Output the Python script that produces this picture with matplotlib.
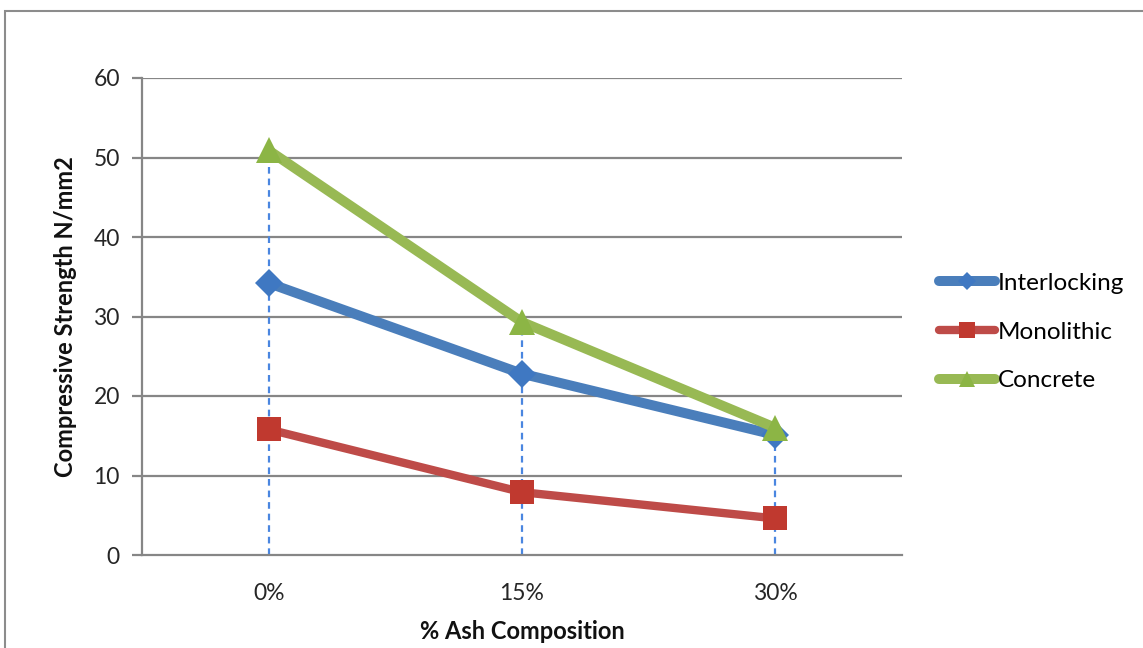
import matplotlib
matplotlib.use("Agg")
import matplotlib.pyplot as plt
from matplotlib.patches import Rectangle
from matplotlib.lines import Line2D

categories = ["0%", "15%", "30%"]
interlocking = [34.2, 22.8, 15.1]
monolithic = [15.8, 7.9, 4.6]
concrete = [50.9, 29.3, 16.0]
series_names = ["Interlocking", "Monolithic", "Concrete"]
y_ticks = [0, 10, 20, 30, 40, 50, 60]

plt.rcParams['font.family'] = ['Lato', 'DejaVu Sans']

fig = plt.figure(figsize=(11.43, 6.48), dpi=100)
fig.patch.set_facecolor('white')
# outer chart frame
fig.patches.append(Rectangle((5/1143, -0.1), 1.2, 1 - 11/648 + 0.1, transform=fig.transFigure,
                             fill=False, edgecolor='#8c8c8c', linewidth=1.5, zorder=0))

ax = fig.add_axes([142/1143, 1 - 555/648, 760/1143, 477/648])
x = [i + 0.5 for i in range(len(categories))]

gray = '#868686'
for t in y_ticks[1:]:
    ax.axhline(t, color=gray, linewidth=1.6, zorder=1)

# drop lines
tops = [max(a, b, c) for a, b, c in zip(interlocking, monolithic, concrete)]
ax.vlines(x, 0, tops, colors='#4a86e0', linestyles=(0, (3, 2.2)), linewidth=1.6, zorder=2)

blue, red, green = '#4a7ebb', '#be4b48', '#98b954'
ax.plot(x, interlocking, color=blue, linewidth=7.2, marker='D', markersize=14,
        markerfacecolor='#3f78c2', markeredgewidth=0, zorder=4, solid_capstyle='round')
ax.plot(x, monolithic, color=red, linewidth=6, marker='s', markersize=17,
        markerfacecolor='#c0392f', markeredgewidth=0, zorder=3, solid_capstyle='round')
ax.plot(x, concrete, color=green, linewidth=7.2, marker='^', markersize=19,
        markerfacecolor='#8cb545', markeredgewidth=0, zorder=5, solid_capstyle='round')

ax.set_xlim(0, 3)
ax.set_ylim(0, 60)
ax.set_xticks(x)
ax.set_xticklabels(categories)
ax.set_yticks(y_ticks)
ax.tick_params(axis='x', length=0, pad=20, labelsize=16.5, colors='#262626')
ax.tick_params(axis='y', length=7, width=1.6, color=gray, pad=9, labelsize=16.5, labelcolor='#262626')
for s in ['top', 'right']:
    ax.spines[s].set_visible(False)
for s in ['left', 'bottom']:
    ax.spines[s].set_color(gray)
    ax.spines[s].set_linewidth(1.6)

ax.set_xlabel("% Ash Composition", fontsize=17, fontweight='bold', labelpad=12, color='#111111')
ax.set_ylabel("Compressive Strength N/mm2", fontsize=17, fontweight='bold', labelpad=12, color='#111111')

handles = [
    Line2D([], [], color=blue, linewidth=7.2, marker='D', markersize=9, markerfacecolor='#3f78c2', markeredgewidth=0, solid_capstyle='round'),
    Line2D([], [], color=red, linewidth=6, marker='s', markersize=12, markerfacecolor='#c0392f', markeredgewidth=0, solid_capstyle='round'),
    Line2D([], [], color=green, linewidth=7.2, marker='^', markersize=12, markerfacecolor='#8cb545', markeredgewidth=0, solid_capstyle='round'),
]
fig.legend(handles, series_names, loc='center left', bbox_to_anchor=(939/1143, 1 - 332/648),
           frameon=False, fontsize=17.5, handlelength=2.3, handletextpad=0.12, labelspacing=1.15,
           borderaxespad=0, borderpad=0)

fig.savefig("out.png", dpi=100, facecolor='white')
